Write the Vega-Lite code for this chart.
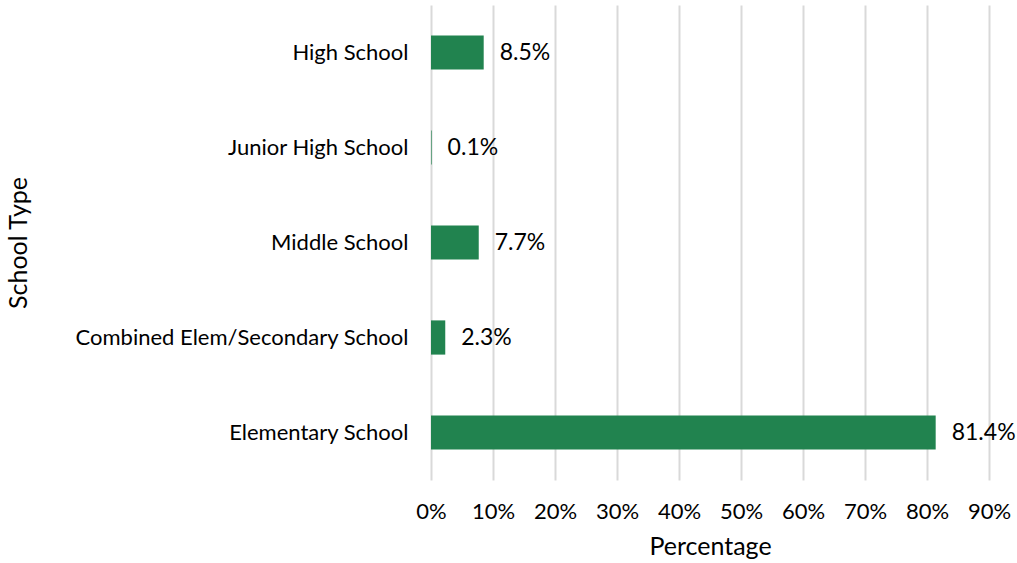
{
  "$schema": "https://vega.github.io/schema/vega-lite/v6.json",
  "autosize": {"type": "none"},
  "width": 558,
  "height": 475,
  "padding": {"left": 431, "top": 5, "right": 28, "bottom": 83},
  "background": "white",
  "config": {
    "font": "Lato",
    "view": {"stroke": null}
  },
  "data": {
    "values": [
      {"type": "High School", "pct": 0.085},
      {"type": "Junior High School", "pct": 0.001},
      {"type": "Middle School", "pct": 0.077},
      {"type": "Combined Elem/Secondary School", "pct": 0.023},
      {"type": "Elementary School", "pct": 0.814}
    ]
  },
  "encoding": {
    "y": {
      "field": "type",
      "type": "nominal",
      "sort": null,
      "scale": {"paddingInner": 0.64, "paddingOuter": 0.32},
      "axis": {
        "title": "School Type",
        "titleFontSize": 25,
        "titleFontWeight": "normal",
        "titleColor": "#000000",
        "titleX": -400,
        "labelFontSize": 22,
        "labelFontWeight": "normal",
        "labelColor": "#000000",
        "labelPadding": 23,
        "labelLimit": 0,
        "ticks": false,
        "domain": false,
        "grid": false
      }
    },
    "x": {
      "field": "pct",
      "type": "quantitative",
      "scale": {"domain": [0, 0.9], "nice": false},
      "axis": {
        "title": "Percentage",
        "format": ".0%",
        "values": [0, 0.1, 0.2, 0.3, 0.4, 0.5, 0.6, 0.7, 0.8, 0.9],
        "titleFontSize": 25,
        "titleFontWeight": "normal",
        "titleColor": "#000000",
        "titlePadding": 12,
        "labelFontSize": 22,
        "labelFontWeight": "normal",
        "labelColor": "#000000",
        "labelPadding": 21,
        "labelFlush": false,
        "ticks": false,
        "domain": false,
        "grid": true,
        "gridColor": "#d9d9d9",
        "gridWidth": 2
      }
    }
  },
  "layer": [
    {"mark": {"type": "bar", "color": "#21834f"}},
    {
      "mark": {"type": "text", "align": "left", "dx": 16, "fontSize": 23, "color": "#000000"},
      "encoding": {"text": {"field": "pct", "type": "quantitative", "format": ".1%"}}
    }
  ]
}
